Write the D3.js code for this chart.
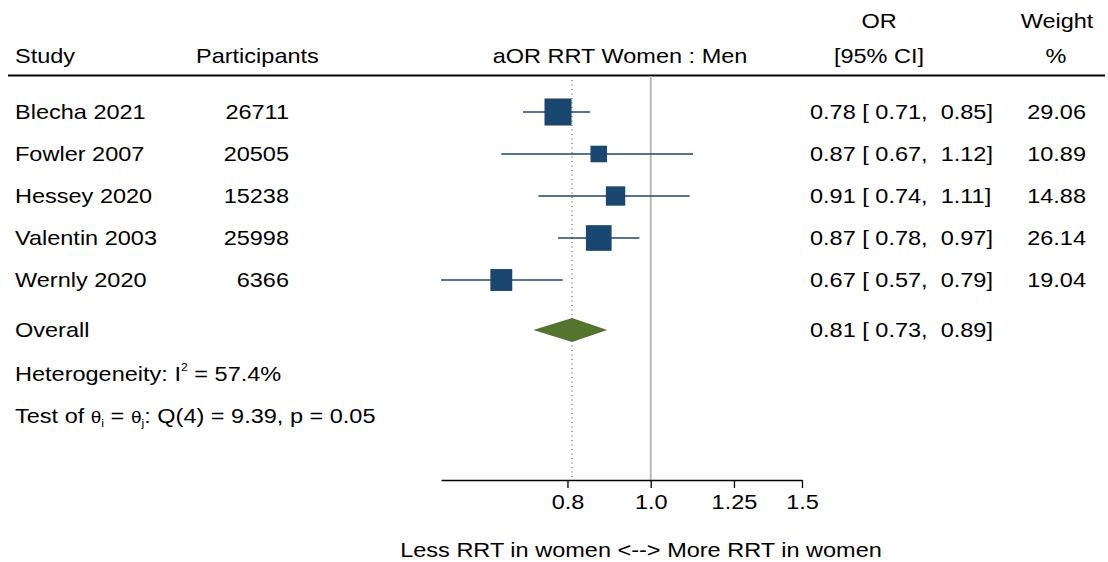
<!DOCTYPE html>
<html><head><meta charset="utf-8">
<script src="https://cdn.jsdelivr.net/npm/d3@7"></script>
<style>
html,body{margin:0;padding:0;background:#fff;}
svg text{font-family:"Liberation Sans",Arial,Helvetica,sans-serif;fill:#000;white-space:pre;}
</style></head>
<body><svg id="c" width="1108" height="562"></svg>
<script>
const studies = ["Blecha 2021", "Fowler 2007", "Hessey 2020", "Valentin 2003", "Wernly 2020"];
const participants = [26711, 20505, 15238, 25998, 6366];
const orVals = [0.78, 0.87, 0.91, 0.87, 0.67];
const ciLow = [0.71, 0.67, 0.74, 0.78, 0.57];
const ciHigh = [0.85, 1.12, 1.11, 0.97, 0.79];
const weights = [29.06, 10.89, 14.88, 26.14, 19.04];
const overallOR = 0.81, overallLow = 0.73, overallHigh = 0.89;
const tickVals = [0.8, 1.0, 1.25, 1.5];
const tickLabels = ["0.8", "1.0", "1.25", "1.5"];
const i2Text = "57.4%";
const qText = ": Q(4) = 9.39, p = 0.05";

const svg = d3.select("#c");
const SX = 1.12, FS = 21;
const fmt = d3.format(".2f");

const x = d3.scaleLog().domain([0.57, 1.5]).range([441, 802]);
const y = d3.scaleLinear().domain([0, 1]).range([112, 154]);
const yOverall = 330, yHet = 374, yTest = 416;
const side = d3.scaleSqrt().domain([0, 30]).range([0, 27.5]);

function T(px, py, txt, anchor) {
  const t = svg.append("text")
    .attr("transform", `translate(${px},${py}) scale(${SX},1)`)
    .attr("text-anchor", anchor || "start")
    .attr("font-size", FS);
  if (txt !== undefined) t.text(txt);
  return t;
}

// header
T(15, 63, "Study");
T(196, 63, "Participants");
T(620, 63, "aOR RRT Women : Men", "middle");
T(879, 28, "OR", "middle");
T(879, 63, "[95% CI]", "middle");
T(1057, 28, "Weight", "middle");
T(1056, 63, "%", "middle");
svg.append("line").attr("x1", 8).attr("x2", 1105).attr("y1", 75.5).attr("y2", 75.5)
  .attr("stroke", "#000").attr("stroke-width", 1.8);

// reference lines
svg.append("line").attr("x1", x(1)).attr("x2", x(1)).attr("y1", 76).attr("y2", 480)
  .attr("stroke", "#b4b4b4").attr("stroke-width", 1.8);
svg.append("line").attr("x1", x(overallOR)).attr("x2", x(overallOR)).attr("y1", 80).attr("y2", 480)
  .attr("stroke", "#444").attr("stroke-width", 1).attr("stroke-dasharray", "1,3.5");

// study rows
studies.forEach((s, i) => {
  const yy = y(i);
  T(15, yy + 7, s);
  T(289, yy + 7, String(participants[i]), "end");
  svg.append("line").attr("x1", x(ciLow[i])).attr("x2", x(ciHigh[i])).attr("y1", yy).attr("y2", yy)
    .attr("stroke", "#1a476f").attr("stroke-width", 1.6);
  const w = side(weights[i]);
  svg.append("rect").attr("x", x(orVals[i]) - w / 2).attr("y", yy - w / 2)
    .attr("width", w).attr("height", w).attr("fill", "#1a476f");
  T(810, yy + 7, `${fmt(orVals[i])} [ ${fmt(ciLow[i])},  ${fmt(ciHigh[i])}]`);
  T(1086, yy + 7, fmt(weights[i]), "end");
});

// overall
T(15, yOverall + 7, "Overall");
const dh = 12;
svg.append("path")
  .attr("d", `M${x(overallLow)},${yOverall}L${x(overallOR)},${yOverall - dh}L${x(overallHigh)},${yOverall}L${x(overallOR)},${yOverall + dh}Z`)
  .attr("fill", "#55752f");
T(810, yOverall + 7, `${fmt(overallOR)} [ ${fmt(overallLow)},  ${fmt(overallHigh)}]`);

// heterogeneity
const h = T(15, yHet + 7);
h.append("tspan").text("Heterogeneity: I");
h.append("tspan").attr("font-size", 11).attr("dy", -10).text("2");
h.append("tspan").attr("dy", 10).text(" = " + i2Text);

const q = T(15, yTest + 7);
q.append("tspan").text("Test of ");
q.append("tspan").attr("font-size", 17).text("θ");
q.append("tspan").attr("font-size", 11).attr("dy", 4).text("i");
q.append("tspan").attr("dy", -4).text(" = ");
q.append("tspan").attr("font-size", 17).text("θ");
q.append("tspan").attr("font-size", 11).attr("dy", 4).text("j");
q.append("tspan").attr("dy", -4).text(qText);

// axis
const ax = svg.append("g").attr("transform", "translate(0,480)")
  .call(d3.axisBottom(x).tickValues(tickVals).tickSize(8).tickSizeOuter(0)
    .tickFormat((d, i) => tickLabels[i]));
ax.select(".domain").attr("stroke", "#000").attr("stroke-width", 1.3);
ax.selectAll(".tick line").attr("stroke", "#000").attr("stroke-width", 1.3);
ax.selectAll(".tick text").attr("font-size", FS).attr("y", 0).attr("dy", 0)
  .attr("transform", `translate(0,29) scale(${SX},1)`)
  .attr("font-family", '"Liberation Sans",Arial,sans-serif').attr("fill", "#000");

T(641, 557, "Less RRT in women <--> More RRT in women", "middle");
</script></body></html>
